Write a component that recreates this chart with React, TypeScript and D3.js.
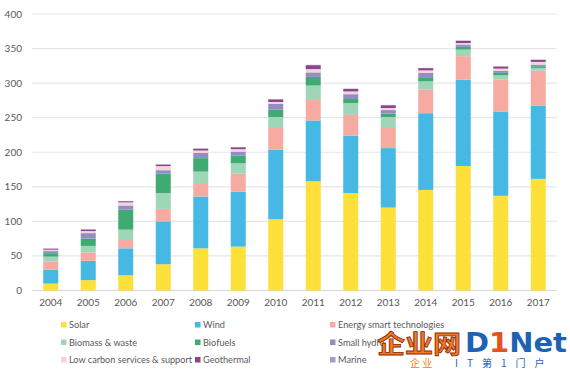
import React from 'react';
import * as d3 from 'd3';

const years = ['2004', '2005', '2006', '2007', '2008', '2009', '2010', '2011', '2012', '2013', '2014', '2015', '2016', '2017'];

const seriesNames = [
  'Solar', 'Wind', 'Energy smart technologies',
  'Biomass & waste', 'Biofuels', 'Small hydro',
  'Low carbon services & support', 'Geothermal', 'Marine',
];

const solar = [10, 15, 22, 38, 61, 63.5, 103, 158, 141, 120, 145.5, 180, 137, 161.5];
const wind = [20, 28, 39, 62, 75, 79.5, 100.5, 88, 83, 86, 111, 125, 122, 106];
const smartTech = [12, 12, 12, 18, 18, 26, 31.5, 29.5, 30, 30.5, 34, 34, 46, 50.5];
const biomass = [7, 9.5, 15, 23, 18, 15, 16, 21, 17, 14.5, 12, 9.5, 6.3, 4];
const biofuels = [5, 10.5, 29, 28, 19.5, 11, 10.5, 12.5, 6, 5, 5, 4, 3.5, 2.4];
const smallHydro = [3, 8, 6, 5, 7.5, 6, 8.5, 6.5, 7, 5, 7.3, 3.3, 3.2, 2.4];
const lowCarbon = [2, 3, 4.5, 6, 3.5, 3.5, 2.7, 4.8, 4, 3, 3.7, 2.2, 3, 3.9];
const geothermal = [1.5, 2.2, 1.7, 2.2, 2.7, 2.7, 3.8, 5.7, 3.6, 4, 3.2, 3.2, 3, 3];
const marine = [0.4, 0.3, 0.3, 0.3, 0.3, 0.3, 0.5, 0.5, 0.4, 0.5, 0.3, 0.4, 0.4, 0.3];

const yTicks = [0, 50, 100, 150, 200, 250, 300, 350, 400];

const colors = ['#fde03a', '#45b8e3', '#f6aaa2', '#9fd6b8', '#3fab72', '#8f8fc4', '#f3d3df', '#8a4787', '#a99bc9'];

const allSeries = [solar, wind, smartTech, biomass, biofuels, smallHydro, lowCarbon, geothermal, marine];

const rows = years.map((y, i) => {
  const r: any = { year: y };
  seriesNames.forEach((n, k) => { r[n] = allSeries[k][i]; });
  return r;
});

const left = 32;
const right = 557;
const top = 14;
const bottom = 290.5;

export default function App() {
  const x = d3.scaleBand().domain(years).range([left, right]).paddingInner(0.6).paddingOuter(0.3);
  const y = d3.scaleLinear().domain([0, 400]).range([bottom, top]);
  const stacked = d3.stack<any>().keys(seriesNames)(rows);

  const legendCols = [61, 195, 330];
  const legendRows = [325, 342.5, 360];
  const font = 'Lato, "Open Sans", sans-serif';

  return (
    <svg width={570} height={369} style={{ position: 'absolute', left: 0, top: 0, background: '#fff' }}>
      <rect width={570} height={369} fill="#fff" />
      {yTicks.map(t => (
        <g key={t}>
          <line x1={left} x2={right} y1={y(t)} y2={y(t)} stroke={t === 0 ? '#d6d6d6' : '#e6e6e6'} strokeWidth={1.2} />
          <text x={22} y={y(t)} dy="0.35em" textAnchor="end" fontSize={10} fill="#595959" fontFamily={font}>{t}</text>
        </g>
      ))}
      {stacked.map((s, k) => (
        <g key={s.key} fill={colors[k]}>
          {s.map((d, i) => (
            <rect key={i} x={x(years[i])} width={x.bandwidth()} y={y(d[1])} height={Math.max(0, y(d[0]) - y(d[1]))} />
          ))}
        </g>
      ))}
      {years.map(yr => (
        <text key={yr} x={(x(yr) as number) + x.bandwidth() / 2} y={306} textAnchor="middle" fontSize={10} fill="#595959" fontFamily={font}>{yr}</text>
      ))}
      {seriesNames.map((n, k) => {
        const cx = legendCols[k % 3];
        const cy = legendRows[Math.floor(k / 3)];
        return (
          <g key={n}>
            <rect x={cx} y={cy - 3} width={5.5} height={5.5} fill={colors[k]} />
            <text x={cx + 8} y={cy} dy="0.35em" fontSize={9.2} fill="#595959" fontFamily={font}
              textLength={n === 'Low carbon services & support' ? 123 : undefined} lengthAdjust="spacingAndGlyphs">{n}</text>
          </g>
        );
      })}
      <g fontFamily='"Noto Sans CJK SC", sans-serif' fontWeight="bold">
        <text x={377} y={353} fontSize={25} fill="#f47a20" stroke="#8a2a0a" strokeWidth={0.8}
          textLength={84} lengthAdjust="spacingAndGlyphs">企业网</text>
        <text x={465} y={352} fontSize={26} fill="#1d62b5" fontFamily='"DejaVu Sans", sans-serif'
          textLength={102} lengthAdjust="spacingAndGlyphs">
          D<tspan fill="#e8501e">1</tspan>Net
        </text>
        <text x={410} y={367} fontSize={10} fill="#f47a20" fontWeight="normal">企 业</text>
        <text x={455} y={367} fontSize={10} fill="#1d62b5" fontWeight="normal" letterSpacing={9}>IT第1门户</text>
      </g>
    </svg>
  );
}
